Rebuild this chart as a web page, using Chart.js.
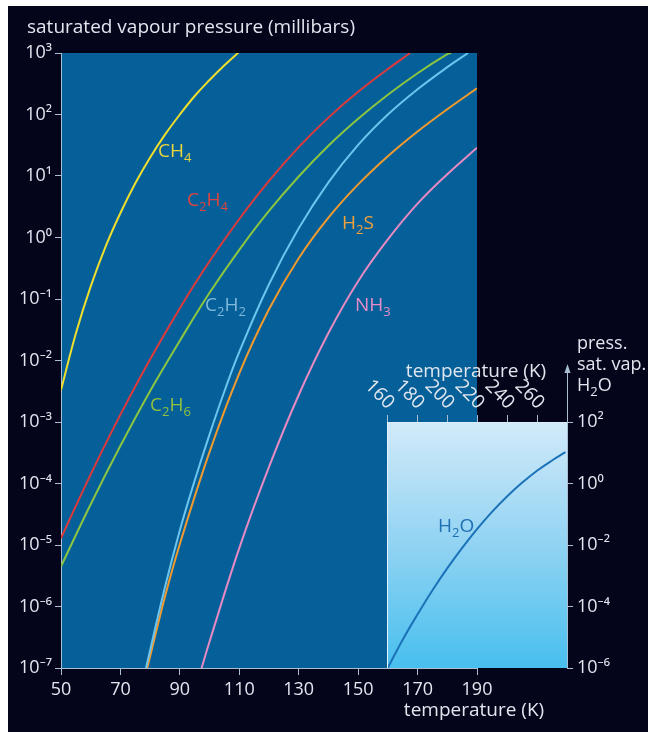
<!DOCTYPE html>
<html>
<head>
<meta charset="utf-8">
<title>Saturated vapour pressure</title>
<script src="https://cdn.jsdelivr.net/npm/chart.js@4.4.1/dist/chart.umd.min.js"></script>
<style>
  html, body { margin: 0; padding: 0; background: #ffffff; }
  #wrap { position: relative; width: 652px; height: 732px; overflow: hidden; }
  #panel { position: absolute; left: 8px; top: 6px; width: 640px; height: 726px; background: #04051a; }
  canvas { position: absolute; left: 0; top: 0; width: 652px; height: 732px; }
</style>
</head>
<body>
<div id="wrap">
  <div id="panel"></div>
  <canvas id="main" width="652" height="732"></canvas>
  <canvas id="inset" width="652" height="732"></canvas>
</div>
<script>
// ---- series: temperature (K) and saturated vapour pressure (millibars) ----
const ch4Temp  = [50, 55, 60, 65, 70, 75, 80, 85, 90, 95, 100, 105, 110];
const ch4Pres  = [3.3e-3, 2.75e-2, 1.6e-1, 7.1e-1, 2.5, 7.6, 20, 47, 100, 200, 363, 631, 1050];

const c2h4Temp = [50, 60, 70, 80, 90, 100, 110, 120, 130, 140, 150, 160, 167.5];
const c2h4Pres = [1.29e-5, 1.41e-4, 1.32e-3, 1.05e-2, 7.1e-2, 0.41, 2.0, 8.3, 29.5, 89, 234, 550, 1000];

const c2h6Temp = [50, 60, 70, 80, 90, 100, 110, 120, 130, 140, 150, 160, 170, 180, 181.3];
const c2h6Pres = [4.5e-6, 4.6e-5, 4.1e-4, 3.2e-3, 2.1e-2, 0.126, 0.63, 2.7, 9.8, 31, 85, 209, 468, 955, 1000];

const c2h2Temp = [78.6, 85, 90, 95, 100, 105, 110, 120, 130, 140, 150, 160, 170, 180, 187];
const c2h2Pres = [1e-7, 2.07e-6, 1.74e-5, 1.12e-4, 6.3e-4, 3.16e-3, 1.38e-2, 0.174, 1.41, 7.9, 32, 100, 257, 589, 1000];

const h2sTemp  = [78.5, 80, 85, 90, 100, 110, 120, 130, 140, 150, 160, 170, 180, 190];
const h2sPres  = [7.9e-8, 1.55e-7, 1.46e-6, 1.04e-5, 3.27e-4, 6.2e-3, 6.8e-2, 0.46, 2.1, 7.3, 21, 53, 122, 266];

const nh3Temp  = [97, 100, 110, 120, 130, 140, 150, 160, 170, 180, 190];
const nh3Pres  = [8.9e-8, 2.7e-7, 8.9e-6, 1.86e-4, 2.75e-3, 2.8e-2, 0.195, 0.93, 3.55, 10.7, 28.8];

const h2oTemp  = [160.5, 170, 180, 190, 200, 210, 220, 230, 240, 250, 260, 270, 279];
const h2oPres  = [1e-6, 7.6e-6, 5.2e-5, 3.2e-4, 1.7e-3, 7.9e-3, 3.3e-2, 0.12, 0.38, 1.05, 2.6, 5.6, 10.5];

// ---- series names and colours ----
const seriesNames  = ['CH4', 'C2H4', 'C2H6', 'C2H2', 'H2S', 'NH3'];
const seriesColors = ['#efdf2c', '#e0393a', '#8cc540', '#6cc5ef', '#f29a2c', '#e88ac2'];

// ---- tick values ----
const mainXTicks  = [50, 70, 90, 110, 130, 150, 170, 190];
const mainYTicks  = [1e-7, 1e-6, 1e-5, 1e-4, 1e-3, 1e-2, 1e-1, 1, 10, 100, 1000];
const insetXTicks = [160, 180, 200, 220, 240, 260];
const insetYTicks = [1e-6, 1e-4, 1e-2, 1, 100];

// ---- text ----
const yTitle = 'saturated vapour pressure (millibars)';
const xTitle = 'temperature (K)';
const insetYTitle = ['press.', 'sat. vap.', 'H2O'];

const FONT = "'Open Sans', 'Noto Sans', 'DejaVu Sans', sans-serif";
const TXT = '#e2e6ee';
const AXIS = '#aabed4';
const PLOT_BG = '#05609a';

Chart.defaults.font.family = FONT;
Chart.defaults.color = TXT;

const SUP = { '-': '\u207B', '0': '\u2070', '1': '\u00B9', '2': '\u00B2', '3': '\u00B3',
  '4': '\u2074', '5': '\u2075', '6': '\u2076', '7': '\u2077', '8': '\u2078', '9': '\u2079' };
function powLabel(v) {
  const e = Math.round(Math.log10(v));
  return '10' + String(e).split('').map(c => SUP[c]).join('');
}

function points(ts, ps) { return ts.map((t, i) => ({ x: t, y: ps[i] })); }

// chemical formula with subscript digits
function drawFormula(ctx, text, x, baseline, color, size) {
  ctx.save();
  ctx.fillStyle = color;
  ctx.textAlign = 'left';
  ctx.textBaseline = 'alphabetic';
  let cx = x;
  for (const ch of text) {
    const sub = /[0-9]/.test(ch);
    ctx.font = (sub ? Math.round(size * 0.7) : size) + 'px ' + FONT;
    ctx.fillText(ch, cx, baseline + (sub ? size * 0.28 : 0));
    cx += ctx.measureText(ch).width;
  }
  ctx.restore();
}

const seriesData = [
  points(ch4Temp, ch4Pres), points(c2h4Temp, c2h4Pres), points(c2h6Temp, c2h6Pres),
  points(c2h2Temp, c2h2Pres), points(h2sTemp, h2sPres), points(nh3Temp, nh3Pres)
];

// label placement next to each curve: [x, baseline, colour]
const labelSpots = [
  [158, 157, '#e9d53c'],
  [187, 206, '#dd4540'],
  [150, 411, '#8fc13f'],
  [205, 311, '#80b8da'],
  [342, 229, '#f1a03a'],
  [355, 311, '#e98bc6']
];

const mainDecor = {
  id: 'mainDecor',
  beforeDraw(chart) {
    const { ctx, chartArea: a } = chart;
    ctx.save();
    ctx.fillStyle = PLOT_BG;
    ctx.fillRect(a.left, a.top, a.right - a.left, a.bottom - a.top);
    ctx.restore();
  },
  afterDraw(chart) {
    const { ctx } = chart;
    ctx.save();
    ctx.fillStyle = TXT;
    ctx.font = '19px ' + FONT;
    ctx.textAlign = 'left';
    ctx.textBaseline = 'middle';
    ctx.fillText(yTitle, 27, 28);
    ctx.textAlign = 'center';
    ctx.fillText(xTitle, 474, 711);
    ctx.restore();
    seriesNames.forEach((n, i) => {
      const s = labelSpots[i];
      drawFormula(ctx, n, s[0], s[1], s[2], 19);
    });
  }
};

new Chart(document.getElementById('main'), {
  type: 'line',
  data: {
    datasets: seriesNames.map((n, i) => ({
      label: n,
      data: seriesData[i],
      borderColor: seriesColors[i],
      borderWidth: 2,
      pointRadius: 0,
      tension: 0.4,
      fill: false
    }))
  },
  options: {
    responsive: false,
    animation: false,
    devicePixelRatio: 1,
    events: [],
    layout: { padding: { left: 0, top: 53, right: 175, bottom: 0 } },
    plugins: { legend: { display: false }, tooltip: { enabled: false } },
    scales: {
      x: {
        type: 'linear', position: 'bottom', min: 50, max: 190,
        afterBuildTicks: s => { s.ticks = mainXTicks.map(v => ({ value: v })); },
        afterFit: s => { s.height = 64; },
        grid: { drawOnChartArea: false, drawTicks: true, tickLength: 7, tickColor: AXIS },
        border: { display: true, color: AXIS, width: 1 },
        ticks: { color: TXT, font: { size: 18 }, padding: 4, maxRotation: 0, autoSkip: false }
      },
      y: {
        type: 'logarithmic', position: 'left', min: 1e-7, max: 1e3,
        afterBuildTicks: s => { s.ticks = mainYTicks.map(v => ({ value: v })); },
        afterFit: s => { s.width = 61; },
        grid: { drawOnChartArea: false, drawTicks: true, tickLength: 6, tickColor: AXIS },
        border: { display: true, color: AXIS, width: 1 },
        ticks: { color: TXT, font: { size: 18 }, padding: 3, autoSkip: false, callback: v => powLabel(v) }
      }
    }
  },
  plugins: [mainDecor]
});

const insetDecor = {
  id: 'insetDecor',
  beforeDraw(chart) {
    const { ctx, chartArea: a } = chart;
    ctx.save();
    const g = ctx.createLinearGradient(0, a.top, 0, a.bottom);
    g.addColorStop(0, '#d2eaf9');
    g.addColorStop(0.5, '#91d3f3');
    g.addColorStop(1, '#48bfee');
    ctx.fillStyle = g;
    ctx.fillRect(a.left, a.top, a.right - a.left, a.bottom - a.top);
    ctx.restore();
  },
  afterDraw(chart) {
    const { ctx, chartArea: a } = chart;
    const xs = chart.scales.x;
    ctx.save();
    // left edge of the inset
    ctx.strokeStyle = '#e4f2fb';
    ctx.lineWidth = 1;
    ctx.beginPath();
    ctx.moveTo(a.left + 0.5, a.top);
    ctx.lineTo(a.left + 0.5, a.bottom);
    ctx.stroke();

    // rotated temperature labels above the inset
    ctx.fillStyle = TXT;
    ctx.font = '19px ' + FONT;
    ctx.textAlign = 'right';
    ctx.textBaseline = 'middle';
    insetXTicks.forEach(v => {
      const px = xs.getPixelForValue(v);
      ctx.save();
      ctx.translate(px + 4, a.top - 16);
      ctx.rotate(Math.PI / 4);
      ctx.fillText(String(v), 0, 0);
      ctx.restore();
    });
    ctx.textAlign = 'center';
    ctx.fillText(xTitle, 476, 372);

    // pressure axis continues upward into an arrow
    const ax = a.right + 0.5;
    ctx.strokeStyle = AXIS;
    ctx.fillStyle = AXIS;
    ctx.beginPath();
    ctx.moveTo(ax, a.top);
    ctx.lineTo(ax, 371);
    ctx.stroke();
    ctx.beginPath();
    ctx.moveTo(ax, 364);
    ctx.lineTo(ax - 3, 373);
    ctx.lineTo(ax + 3, 373);
    ctx.closePath();
    ctx.fill();
    ctx.restore();

    // axis caption on the right
    ctx.save();
    ctx.fillStyle = TXT;
    ctx.font = '18px ' + FONT;
    ctx.textAlign = 'left';
    ctx.textBaseline = 'alphabetic';
    ctx.fillText(insetYTitle[0], 577, 349);
    ctx.fillText(insetYTitle[1], 577, 370);
    ctx.restore();
    drawFormula(ctx, insetYTitle[2], 577, 391, TXT, 18);

    drawFormula(ctx, 'H2O', 438, 532, '#1f6fb4', 19);
  }
};

new Chart(document.getElementById('inset'), {
  type: 'line',
  data: {
    datasets: [{
      label: 'H2O',
      data: points(h2oTemp, h2oPres),
      borderColor: '#1b72b8',
      borderWidth: 2,
      pointRadius: 0,
      tension: 0.4,
      fill: false
    }]
  },
  options: {
    responsive: false,
    animation: false,
    devicePixelRatio: 1,
    events: [],
    layout: { padding: { left: 387, top: 372, right: 15, bottom: 64 } },
    plugins: { legend: { display: false }, tooltip: { enabled: false } },
    scales: {
      x: {
        type: 'linear', position: 'top', min: 160, max: 280,
        afterBuildTicks: s => { s.ticks = insetXTicks.map(v => ({ value: v })); },
        afterFit: s => { s.height = 50; },
        grid: { drawOnChartArea: false, drawTicks: true, tickLength: 7, tickColor: AXIS },
        border: { display: true, color: '#dceefa', width: 1 },
        ticks: { display: false }
      },
      y: {
        type: 'logarithmic', position: 'right', min: 1e-6, max: 1e2,
        afterBuildTicks: s => { s.ticks = insetYTicks.map(v => ({ value: v })); },
        afterFit: s => { s.width = 70; },
        grid: { drawOnChartArea: false, drawTicks: true, tickLength: 6, tickColor: AXIS },
        border: { display: true, color: AXIS, width: 1 },
        ticks: { color: TXT, font: { size: 18 }, padding: 4, autoSkip: false, callback: v => powLabel(v) }
      }
    }
  },
  plugins: [insetDecor]
});
</script>
</body>
</html>
